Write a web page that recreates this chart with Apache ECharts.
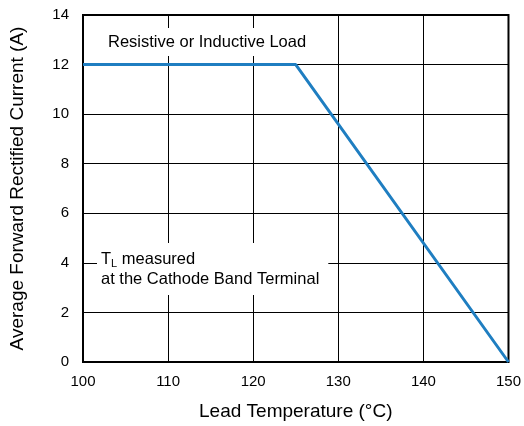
<!DOCTYPE html>
<html>
<head>
<meta charset="utf-8">
<script src="https://cdn.jsdelivr.net/npm/echarts@6/dist/echarts.min.js"></script>
<style>
  html, body { margin: 0; padding: 0; background: #fff; }
  #chart { width: 524px; height: 426px; }
</style>
</head>
<body>
<div id="chart"></div>
<script>
// derating curve: lead temperature (°C) vs current (A)
const temps = [100, 125, 150];
const currents = [12, 12, 0];
const xTicks = [100, 110, 120, 130, 140, 150];
const yTicks = [0, 2, 4, 6, 8, 10, 12, 14];

const font = 'Liberation Sans, Arial, Helvetica, sans-serif';
const chart = echarts.init(document.getElementById('chart'));

chart.setOption({
  animation: false,
  backgroundColor: '#fff',
  grid: { left: 83, right: 13, top: 15, bottom: 63, show: true, borderColor: '#000', borderWidth: 2 },
  xAxis: {
    type: 'value',
    min: xTicks[0],
    max: xTicks[xTicks.length - 1],
    interval: 10,
    name: 'Lead Temperature (°C)',
    nameLocation: 'middle',
    nameGap: 40,
    nameTextStyle: { fontFamily: font, fontSize: 19, color: '#000' },
    axisLine: { show: false },
    axisTick: { show: false },
    axisLabel: { fontFamily: font, fontSize: 15, color: '#000', margin: 12 },
    splitLine: { show: true, lineStyle: { color: '#000', width: 1 } }
  },
  yAxis: {
    type: 'value',
    min: yTicks[0],
    max: yTicks[yTicks.length - 1],
    interval: 2,
    name: 'Average Forward Rectified Current (A)',
    nameLocation: 'middle',
    nameGap: 56,
    nameTextStyle: { fontFamily: font, fontSize: 19, color: '#000' },
    axisLine: { show: false },
    axisTick: { show: false },
    axisLabel: { fontFamily: font, fontSize: 15, color: '#000', margin: 14 },
    splitLine: { show: true, lineStyle: { color: '#000', width: 1 } }
  },
  series: [{
    type: 'line',
    data: temps.map((t, i) => [t, currents[i]]),
    symbol: 'none',
    lineStyle: { color: '#1f7ec1', width: 3 },
    z: 5
  }],
  graphic: [
    {
      type: 'text', left: 98, top: 28, z: 10,
      style: {
        text: 'Resistive or Inductive Load',
        font: '16.5px ' + font, fill: '#000',
        backgroundColor: '#fff', padding: [6, 10, 5, 10]
      }
    },
    {
      type: 'text', left: 97, top: 243, z: 10,
      style: {
        text: '{t|T}{s|L}{t| measured}\n{t|at the Cathode Band Terminal}',
        font: '16.5px ' + font, fill: '#000',
        backgroundColor: '#fff', padding: [6, 9, 6, 4],
        rich: {
          t: { fontFamily: font, fontSize: 16.5, color: '#000', lineHeight: 20 },
          s: { fontFamily: font, fontSize: 11, color: '#000', verticalAlign: 'bottom', padding: [7, 0, 0, 0] }
        }
      }
    }
  ]
});
</script>
</body>
</html>
